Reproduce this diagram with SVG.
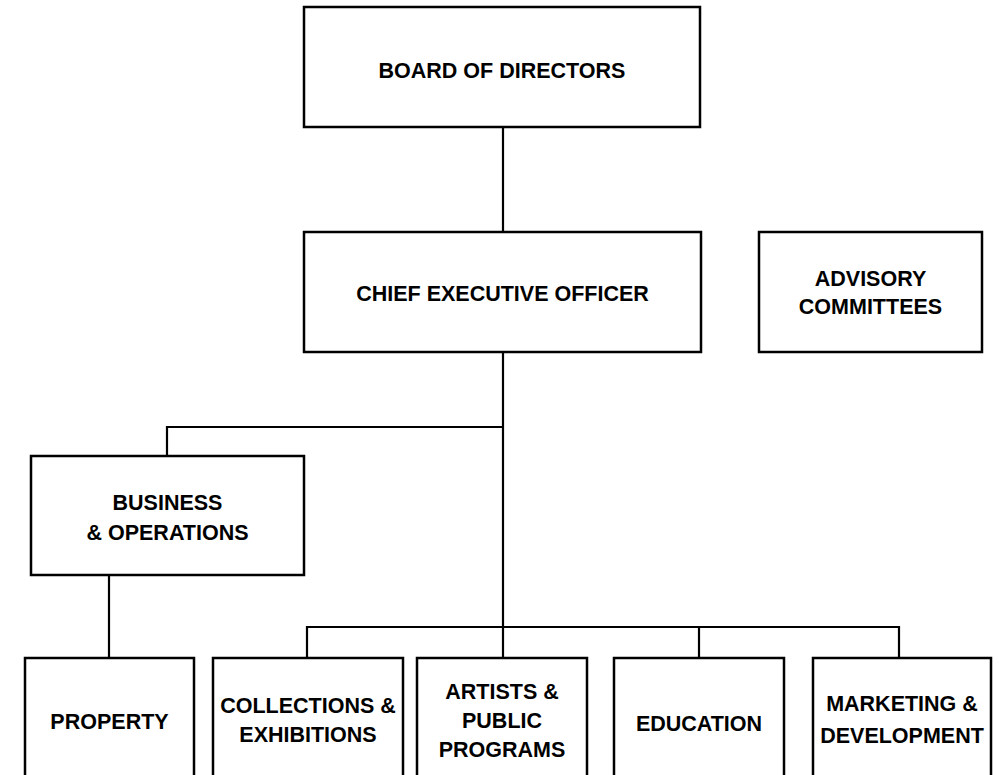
<svg xmlns="http://www.w3.org/2000/svg" width="999" height="775" viewBox="0 0 999 775">
<style>
.box{fill:#fff;stroke:#000;stroke-width:2.5}
.lbl{font-family:"Liberation Sans",Arial,sans-serif;font-weight:bold;font-size:21.5px;fill:#000;text-anchor:middle}
.con{fill:none;stroke:#000;stroke-width:2.2}
</style>
<rect width="999" height="775" fill="#fff"/>
<g id="connectors">
<path class="con" d="M503 127V232"/>
<path class="con" d="M503 352V658"/>
<path class="con" d="M167 456V427H503"/>
<path class="con" d="M109 575V658"/>
<path class="con" d="M307 658V627H899V658"/>
<path class="con" d="M699 627V658"/>
</g>
<g id="board"><rect class="box" x="304" y="7" width="396" height="120"/><text class="lbl" x="502" y="78">BOARD OF DIRECTORS</text></g>
<g id="ceo"><rect class="box" x="304" y="232" width="397" height="120"/><text class="lbl" x="502.5" y="301">CHIEF EXECUTIVE OFFICER</text></g>
<g id="advisory"><rect class="box" x="759" y="232" width="223" height="120"/><text class="lbl" x="870.5" y="286">ADVISORY</text><text class="lbl" x="870.5" y="314">COMMITTEES</text></g>
<g id="business"><rect class="box" x="31" y="456" width="273" height="119"/><text class="lbl" x="167.5" y="510">BUSINESS</text><text class="lbl" x="167.5" y="540">&amp; OPERATIONS</text></g>
<g id="property"><rect class="box" x="25" y="658" width="169" height="130"/><text class="lbl" x="109.5" y="729">PROPERTY</text></g>
<g id="collections"><rect class="box" x="213" y="658" width="190" height="130"/><text class="lbl" x="308" y="713">COLLECTIONS &amp;</text><text class="lbl" x="308" y="742">EXHIBITIONS</text></g>
<g id="artists"><rect class="box" x="417" y="658" width="170" height="130"/><text class="lbl" x="502" y="699">ARTISTS &amp;</text><text class="lbl" x="502" y="728">PUBLIC</text><text class="lbl" x="502" y="757">PROGRAMS</text></g>
<g id="education"><rect class="box" x="614" y="658" width="170" height="130"/><text class="lbl" x="699" y="731">EDUCATION</text></g>
<g id="marketing"><rect class="box" x="813" y="658" width="178" height="130"/><text class="lbl" x="902" y="711">MARKETING &amp;</text><text class="lbl" x="902" y="743">DEVELOPMENT</text></g>
</svg>
